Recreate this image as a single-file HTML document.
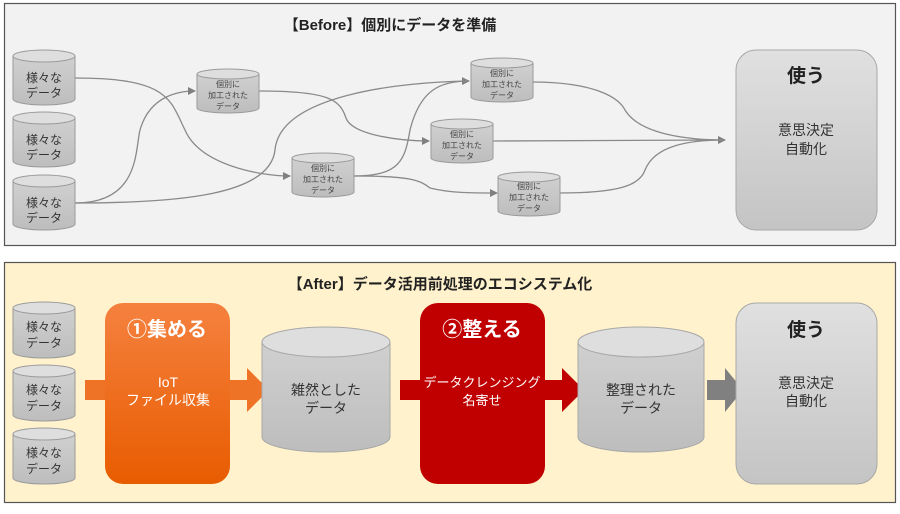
<!DOCTYPE html>
<html><head><meta charset="utf-8"><style>
body{margin:0;background:#fff;}
svg text{font-family:"Liberation Sans","Noto Sans CJK JP",sans-serif;}
</style></head><body>
<svg width="900" height="509" viewBox="0 0 900 509" xmlns="http://www.w3.org/2000/svg">
<defs>
<linearGradient id="cy" x1="0" y1="0" x2="0" y2="1"><stop offset="0" stop-color="#d0d0d0"/><stop offset="1" stop-color="#bdbdbd"/></linearGradient>
<linearGradient id="gu" x1="0" y1="0" x2="0" y2="1"><stop offset="0" stop-color="#e0e0e0"/><stop offset="1" stop-color="#c4c4c4"/></linearGradient>
<linearGradient id="or" x1="0" y1="0" x2="0" y2="1"><stop offset="0" stop-color="#f5813f"/><stop offset="1" stop-color="#e85c00"/></linearGradient>
<marker id="ah" markerWidth="8" markerHeight="8" refX="7" refY="4" orient="auto" markerUnits="userSpaceOnUse"><path d="M0,0 L8,4 L0,8 z" fill="#808080"/></marker>
</defs>
<!-- Before panel -->
<rect x="4.5" y="3.5" width="891" height="242" fill="#f2f2f2" stroke="#555" stroke-width="1.2"/>
<text x="390" y="30" font-size="15" font-weight="bold" text-anchor="middle" fill="#222">【Before】個別にデータを準備</text>
<g fill="none" stroke="#8a8a8a" stroke-width="1.3">
<path d="M75,78 C170,78 170,100 185,130 C200,165 260,176 290,176" marker-end="url(#ah)"/>
<path d="M75,203 C140,203 135,150 140,130 C150,95 180,91 195,91" marker-end="url(#ah)"/>
<path d="M75,203 C180,203 270,195 275,150 C280,95 400,82 469,81" marker-end="url(#ah)"/>
<path d="M259,91 C330,91 340,100 346,118 C352,135 400,141 429,141" marker-end="url(#ah)"/>
<path d="M354,176 C400,176 405,160 410,130 C420,90 440,81 469,81"/>
<path d="M354,176 C410,176 420,180 430,188 C450,193 470,193 497,193" marker-end="url(#ah)"/>
<path d="M531,82 C600,82 620,100 625,110 C640,135 690,140 725,140" marker-end="url(#ah)"/>
<path d="M493,141 L725,140"/>
<path d="M559,193 C620,193 640,185 645,170 C655,145 690,140 725,140"/>
</g>
<g stroke="#9a9a9a" stroke-width="1">
<g id="s1"><path d="M13,56 V99 A31,6 0 0 0 75,99 V56" fill="url(#cy)"/><ellipse cx="44" cy="56" rx="31" ry="6" fill="#dedede"/></g>
<use href="#s1" y="62"/><use href="#s1" y="125"/>
<g id="m1"><path d="M197,74 V108 A31,5 0 0 0 259,108 V74" fill="url(#cy)"/><ellipse cx="228" cy="74" rx="31" ry="5" fill="#dedede"/></g>
<use href="#m1" x="95" y="84"/><use href="#m1" x="274" y="-11"/><use href="#m1" x="234" y="50"/><use href="#m1" x="301" y="103"/>
</g>
<g font-size="12" fill="#333" text-anchor="middle">
<text x="44" y="82">様々な</text><text x="44" y="97">データ</text>
<text x="44" y="144">様々な</text><text x="44" y="159">データ</text>
<text x="44" y="207">様々な</text><text x="44" y="222">データ</text>
</g>
<g font-size="8" fill="#444" text-anchor="middle">
<text x="228" y="87">個別に</text><text x="228" y="98">加工された</text><text x="228" y="109">データ</text>
<text x="323" y="171">個別に</text><text x="323" y="182">加工された</text><text x="323" y="193">データ</text>
<text x="502" y="76">個別に</text><text x="502" y="87">加工された</text><text x="502" y="98">データ</text>
<text x="462" y="137">個別に</text><text x="462" y="148">加工された</text><text x="462" y="159">データ</text>
<text x="529" y="189">個別に</text><text x="529" y="200">加工された</text><text x="529" y="211">データ</text>
</g>
<rect x="736" y="50" width="141" height="180" rx="20" fill="url(#gu)" stroke="#a8a8a8"/>
<text x="806" y="82" font-size="19" font-weight="bold" text-anchor="middle" fill="#222">使う</text>
<text x="806" y="135" font-size="14" text-anchor="middle" fill="#333">意思決定</text>
<text x="806" y="154" font-size="14" text-anchor="middle" fill="#333">自動化</text>

<!-- After panel -->
<rect x="4.5" y="262.5" width="891" height="240" fill="#fff2cc" stroke="#555" stroke-width="1.2"/>
<text x="440" y="289" font-size="15" font-weight="bold" text-anchor="middle" fill="#222">【After】データ活用前処理のエコシステム化</text>
<g stroke="#9a9a9a" stroke-width="1">
<g id="s2"><path d="M13,308 V352 A31,6 0 0 0 75,352 V308" fill="url(#cy)"/><ellipse cx="44" cy="308" rx="31" ry="6" fill="#dedede"/></g>
<use href="#s2" y="63"/><use href="#s2" y="126"/>
</g>
<g font-size="12" fill="#333" text-anchor="middle">
<text x="44" y="331">様々な</text><text x="44" y="347">データ</text>
<text x="44" y="394">様々な</text><text x="44" y="410">データ</text>
<text x="44" y="457">様々な</text><text x="44" y="473">データ</text>
</g>
<!-- arrows -->
<rect x="85" y="380" width="22" height="20" fill="#ef7327"/>
<path d="M228,380 H247 V368 L269,390 L247,412 V400 H228 z" fill="#ef7327"/>
<rect x="400" y="380" width="22" height="20" fill="#c00000"/>
<path d="M543,380 H562 V368 L584,390 L562,412 V400 H543 z" fill="#c00000"/>
<path d="M707,380 H725 V368 L743,390 L725,412 V400 H707 z" fill="#808080"/>
<!-- boxes -->
<rect x="105" y="303" width="125" height="181" rx="18" fill="url(#or)"/>
<text x="167" y="336" font-size="20" font-weight="bold" text-anchor="middle" fill="#fff">①集める</text>
<text x="168" y="387" font-size="14" text-anchor="middle" fill="#fff">IoT</text>
<text x="168" y="405" font-size="14" text-anchor="middle" fill="#fff">ファイル収集</text>
<rect x="420" y="303" width="125" height="181" rx="18" fill="#c00000"/>
<text x="482" y="336" font-size="20" font-weight="bold" text-anchor="middle" fill="#fff">②整える</text>
<text x="482" y="387" font-size="13" text-anchor="middle" fill="#fff">データクレンジング</text>
<text x="482" y="405" font-size="13" text-anchor="middle" fill="#fff">名寄せ</text>
<g stroke="#a8a8a8" stroke-width="1">
<path d="M262,342 V437 A64,15 0 0 0 390,437 V342" fill="url(#cy)"/><ellipse cx="326" cy="342" rx="64" ry="15" fill="#dedede"/>
<path d="M578,342 V437 A63,15 0 0 0 704,437 V342" fill="url(#cy)"/><ellipse cx="641" cy="342" rx="63" ry="15" fill="#dedede"/>
</g>
<text x="326" y="395" font-size="14" text-anchor="middle" fill="#333">雑然とした</text>
<text x="326" y="413" font-size="14" text-anchor="middle" fill="#333">データ</text>
<text x="641" y="395" font-size="14" text-anchor="middle" fill="#333">整理された</text>
<text x="641" y="413" font-size="14" text-anchor="middle" fill="#333">データ</text>
<rect x="736" y="303" width="141" height="181" rx="20" fill="url(#gu)" stroke="#a8a8a8"/>
<text x="806" y="336" font-size="19" font-weight="bold" text-anchor="middle" fill="#222">使う</text>
<text x="806" y="388" font-size="14" text-anchor="middle" fill="#333">意思決定</text>
<text x="806" y="406" font-size="14" text-anchor="middle" fill="#333">自動化</text>
</svg>
</body></html>
